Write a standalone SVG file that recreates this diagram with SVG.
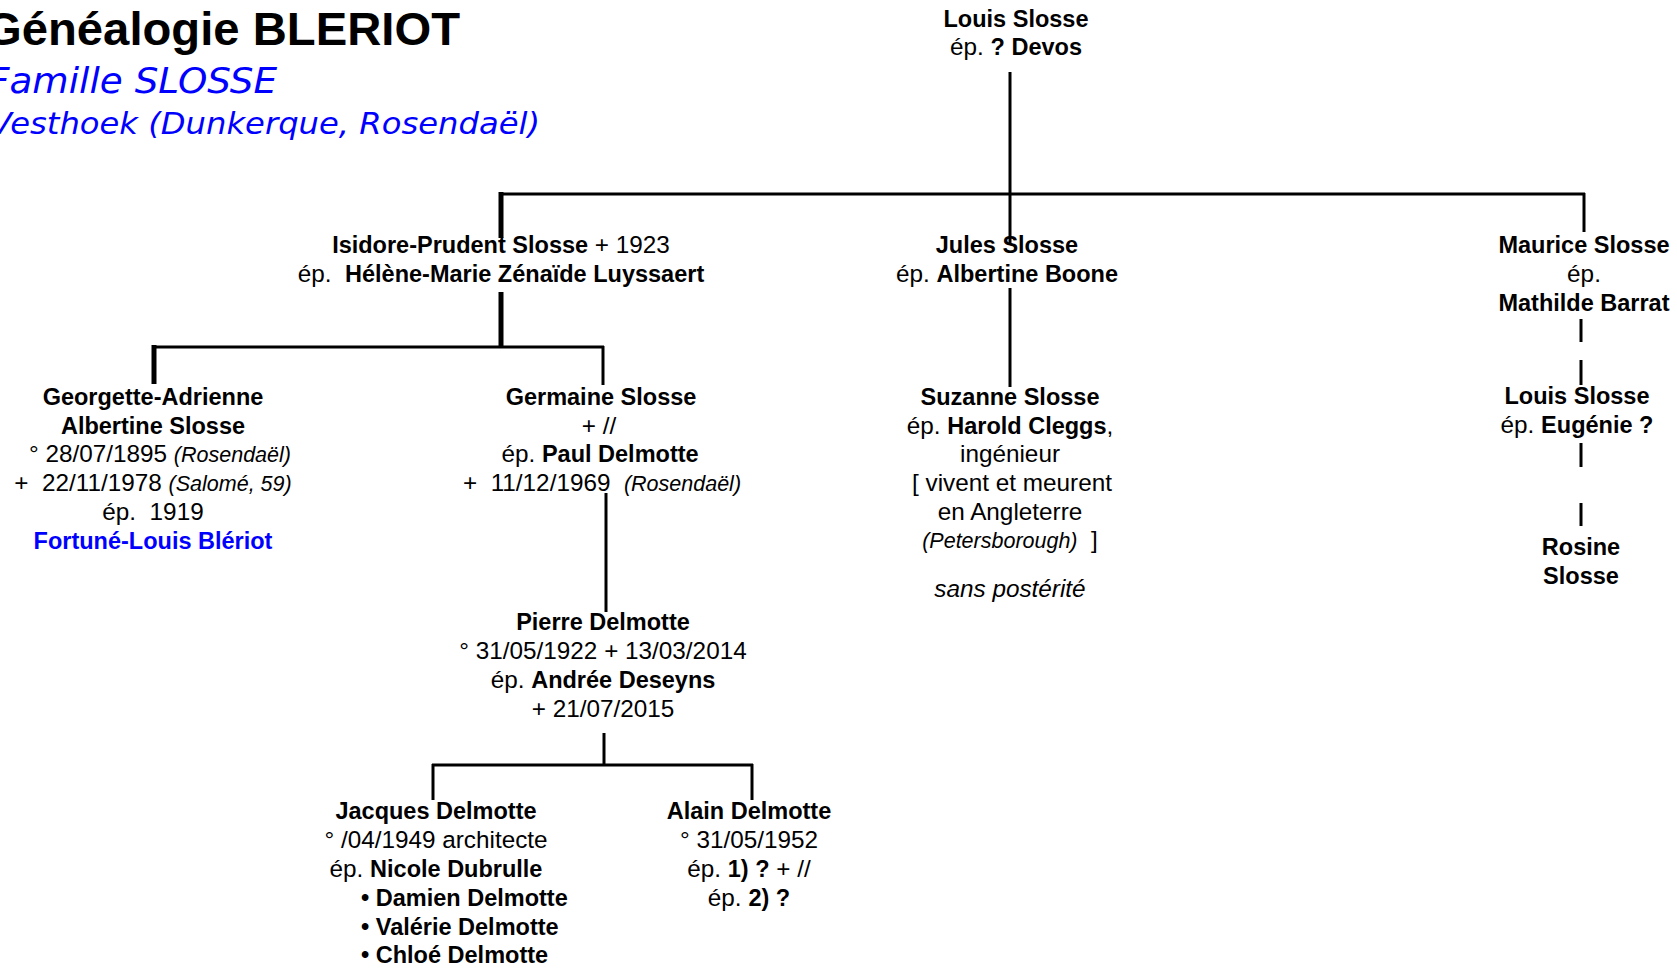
<svg xmlns="http://www.w3.org/2000/svg" width="1677" height="969" viewBox="0 0 1677 969">
<style>
.t{font-family:"Liberation Sans",Arial,sans-serif;font-size:24.3px;fill:#000;text-anchor:middle}
.s{text-anchor:start}
.b{font-weight:bold;font-size:23.5px}
.i{font-style:italic;font-size:21.5px}
.ii{font-style:italic}
.blue{fill:#0000FF}
.h{font-family:"DejaVu Sans",Verdana,sans-serif;font-style:italic;fill:#0000FF}
#connectors line{stroke:#000;stroke-width:3;fill:none}
#connectors line.k{stroke-width:5}
</style>
<rect width="1677" height="969" fill="#fff"/>
<g id="title">
<text x="-15" y="45" font-family="Liberation Sans, Arial, sans-serif" font-weight="bold" font-size="46" textLength="475" lengthAdjust="spacingAndGlyphs">Généalogie BLERIOT</text>
<text class="h" x="-12" y="93" font-size="35" textLength="289" lengthAdjust="spacingAndGlyphs">Famille SLOSSE</text>
<text class="h" x="-10" y="134" font-size="31" textLength="550" lengthAdjust="spacingAndGlyphs">Vesthoek (Dunkerque, Rosendaël)</text>
</g>
<g id="connectors">
<line x1="1010" y1="72" x2="1010" y2="245"/>
<line x1="500" y1="194" x2="1585" y2="194"/>
<line class="k" x1="501" y1="192" x2="501" y2="238"/>
<line x1="1584" y1="193" x2="1584" y2="232"/>
<line class="k" x1="501" y1="292" x2="501" y2="347"/>
<line x1="152" y1="347" x2="604" y2="347"/>
<line class="k" x1="154" y1="345" x2="154" y2="384"/>
<line x1="603" y1="346" x2="603" y2="385"/>
<line x1="1010" y1="288" x2="1010" y2="387"/>
<line x1="606" y1="493" x2="606" y2="612"/>
<line x1="604" y1="733" x2="604" y2="765"/>
<line x1="432" y1="765" x2="753" y2="765"/>
<line x1="433" y1="764" x2="433" y2="800"/>
<line x1="752" y1="764" x2="752" y2="800"/>
<line x1="1581" y1="319" x2="1581" y2="342"/>
<line x1="1581" y1="360" x2="1581" y2="385"/>
<line x1="1581" y1="443" x2="1581" y2="467"/>
<line x1="1581" y1="503" x2="1581" y2="526"/>
</g>
<g id="n_louis">
<text class="t b" x="1016" y="27">Louis Slosse</text>
<text class="t" x="1016" y="55">ép. <tspan class="b">? Devos</tspan></text>
</g>
<g id="n_isidore">
<text class="t" x="501" y="253"><tspan class="b">Isidore-Prudent Slosse</tspan> + 1923</text>
<text class="t" x="501" y="282">ép.&#160; <tspan class="b">Hélène-Marie Zénaïde Luyssaert</tspan></text>
</g>
<g id="n_jules">
<text class="t b" x="1007" y="253">Jules Slosse</text>
<text class="t" x="1007" y="282">ép. <tspan class="b">Albertine Boone</tspan></text>
</g>
<g id="n_maurice">
<text class="t b" x="1584" y="253">Maurice Slosse</text>
<text class="t" x="1584" y="282">ép.</text>
<text class="t b" x="1584" y="310.5">Mathilde Barrat</text>
</g>
<g id="n_georgette">
<text class="t b" x="153" y="405">Georgette-Adrienne</text>
<text class="t b" x="153" y="433.7">Albertine Slosse</text>
<text class="t" x="160" y="462.4">° 28/07/1895 <tspan class="i">(Rosendaël)</tspan></text>
<text class="t" x="153" y="491">+&#160;&#160;22/11/1978 <tspan class="i">(Salomé, 59)</tspan></text>
<text class="t" x="153" y="519.8">ép.&#160; 1919</text>
<text class="t b blue" x="153" y="548.5">Fortuné-Louis Blériot</text>
</g>
<g id="n_germaine">
<text class="t b" x="601" y="405">Germaine Slosse</text>
<text class="t" x="599" y="433.7">+ //</text>
<text class="t" x="600" y="462.4">ép. <tspan class="b">Paul Delmotte</tspan></text>
<text class="t" x="602" y="491">+&#160; 11/12/1969&#160; <tspan class="i">(Rosendaël)</tspan></text>
</g>
<g id="n_suzanne">
<text class="t b" x="1010" y="405">Suzanne Slosse</text>
<text class="t" x="1010" y="433.7">ép. <tspan class="b">Harold Cleggs</tspan>,</text>
<text class="t" x="1010" y="462.4">ingénieur</text>
<text class="t" x="1012" y="491">[ vivent et meurent</text>
<text class="t" x="1010" y="519.8">en Angleterre</text>
<text class="t" x="1010" y="547.5"><tspan class="i">(Petersborough)</tspan>&#160; ]</text>
<text class="t ii" x="1010" y="597">sans postérité</text>
</g>
<g id="n_louis2">
<text class="t b" x="1577" y="404">Louis Slosse</text>
<text class="t" x="1577" y="433">ép. <tspan class="b">Eugénie ?</tspan></text>
</g>
<g id="n_rosine">
<text class="t b" x="1581" y="555">Rosine</text>
<text class="t b" x="1581" y="584">Slosse</text>
</g>
<g id="n_pierre">
<text class="t b" x="603" y="630">Pierre Delmotte</text>
<text class="t" x="603" y="659">° 31/05/1922 + 13/03/2014</text>
<text class="t" x="603" y="688">ép. <tspan class="b">Andrée Deseyns</tspan></text>
<text class="t" x="603" y="717">+ 21/07/2015</text>
</g>
<g id="n_jacques">
<text class="t b" x="436" y="819">Jacques Delmotte</text>
<text class="t" x="436" y="848">° /04/1949 architecte</text>
<text class="t" x="436" y="877">ép. <tspan class="b">Nicole Dubrulle</tspan></text>
<text class="t s b" x="361" y="905.5">• Damien Delmotte</text>
<text class="t s b" x="361" y="934.5">• Valérie Delmotte</text>
<text class="t s b" x="361" y="963">• Chloé Delmotte</text>
</g>
<g id="n_alain">
<text class="t b" x="749" y="819">Alain Delmotte</text>
<text class="t" x="749" y="848">° 31/05/1952</text>
<text class="t" x="749" y="877">ép. <tspan class="b">1) ?</tspan> + //</text>
<text class="t" x="749" y="906">ép. <tspan class="b">2) ?</tspan></text>
</g>
</svg>
